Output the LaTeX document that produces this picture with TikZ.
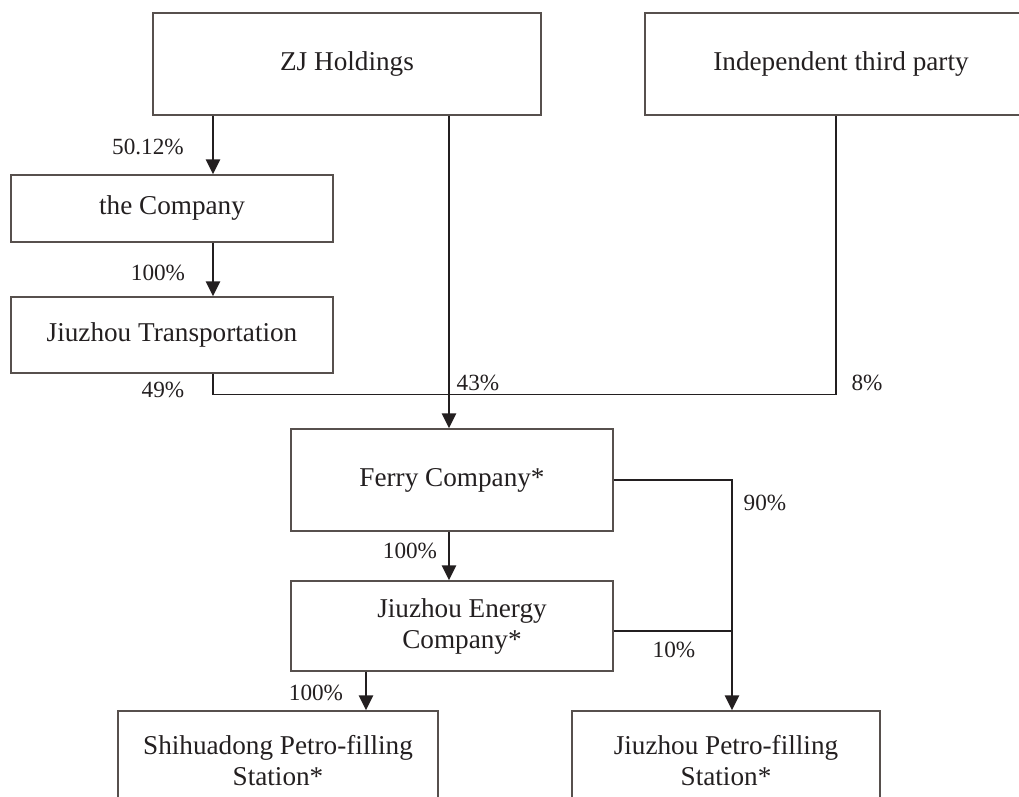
\documentclass[tikz,border=0pt]{standalone}
\usepackage{fontspec}
\setmainfont{Liberation Serif}
\usepackage{tikz}
\usetikzlibrary{arrows.meta, positioning, calc}
\usepackage{xcolor}
\definecolor{inkdark}{HTML}{231F20}
\definecolor{boxline}{HTML}{57504D}

\begin{document}
\begin{tikzpicture}[x=0.5pt, y=-0.5pt,
    entity/.style={draw=boxline, line width=0.65pt, inner sep=0pt, align=center,
        text=inkdark, font=\fontsize{13.6}{15.5}\selectfont},
    share/.style={text=inkdark, inner sep=0pt, font=\fontsize{11.6}{14}\selectfont},
    own/.style={draw=inkdark, line width=1.3pt, -{Triangle[width=7pt,length=7.5pt]}},
    link/.style={draw=inkdark, line width=0.7pt}]
    \useasboundingbox (0,0) rectangle (1019,797);

    % top level
    \node[entity, minimum width=194pt, minimum height=51pt] (zj) at (347,64) {ZJ Holdings};
    \node[entity, minimum width=196pt, minimum height=51pt] (third) at (841,64) {Independent third party};

    % left chain
    \node[entity, minimum width=161pt, minimum height=33.5pt] (comp) at (172,208.5) {the Company};
    \node[entity, minimum width=161pt, minimum height=38pt] (jt) at (172,335) {Jiuzhou Transportation};

    % middle
    \node[entity, minimum width=161pt, minimum height=51pt] (ferry) at (452,480) {Ferry Company*};
    \node[entity, minimum width=161pt, minimum height=45pt] (energy) at (452,626) {\hspace*{10pt}Jiuzhou Energy\\\hspace*{10pt}Company*};

    % stations (cut at the page bottom)
    \node[entity, minimum width=160pt, minimum height=50pt] (shihua) at (278,761) {Shihuadong Petro-filling\\Station*};
    \node[entity, minimum width=154pt, minimum height=50pt] (jpetro) at (726,761) {Jiuzhou Petro-filling\\Station*};

    \coordinate (jn) at ([xshift=3pt]jpetro.north);

    % ownership arrows
    \draw[own] ([xshift=20.5pt]comp.north |- zj.south) -- ([xshift=20.5pt]comp.north);
    \draw[own] ([xshift=20.5pt]comp.south) -- ([xshift=20.5pt]jt.north);
    \draw[own] ([xshift=-1.5pt]ferry.north |- zj.south) -- ([xshift=-1.5pt]ferry.north);
    \draw[link] ([xshift=20.5pt]jt.south) -- ++(0,-10.5pt) -| ([xshift=-2.5pt]third.south);
    \draw[own] ([xshift=-1.5pt]ferry.south) -- ([xshift=-1.5pt]energy.north);
    \draw[own] (ferry.east) -| (jn);
    \draw[link] ([yshift=-2.5pt]energy.east) -- ++(59.5pt,0);
    \draw[own] ([xshift=44pt]shihua.north |- energy.south) -- ([xshift=44pt]shihua.north);

    % percentages
    \node[share] (p1) at (148,147) {50.12\%};
    \node[share] (p2) at (158,273) {100\%};
    \node[share] (p3) at (163,390) {49\%};
    \node[share] (p4) at (478,383) {43\%};
    \node[share] (p5) at (867,383) {8\%};
    \node[share] (p6) at (765,503) {90\%};
    \node[share] (p7) at (674,650) {10\%};
    \node[share] (p8) at (410,551) {100\%};
    \node[share] (p9) at (316,693) {100\%};
\end{tikzpicture}
\end{document}
